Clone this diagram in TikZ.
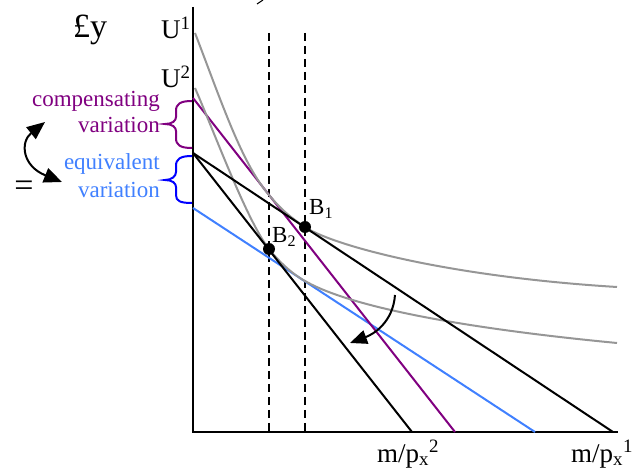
\documentclass[tikz,border=0pt]{standalone}
\usepackage{fontspec}
\setmainfont{Liberation Serif}
\usetikzlibrary{arrows.meta}
\definecolor{cvpurple}{RGB}{128,0,128}
\definecolor{evblue}{RGB}{64,128,255}
\definecolor{bracblue}{RGB}{0,0,255}
\definecolor{icgray}{RGB}{150,150,150}
\begin{document}
\begin{tikzpicture}[x=1pt,y=-1pt,
  big/.style={font=\fontsize{27}{30}\selectfont, inner sep=0pt},
  huge/.style={font=\fontsize{34}{38}\selectfont, inner sep=0pt},
  lab/.style={font=\fontsize{23}{27}\selectfont, inner sep=0pt},
  blab/.style={font=\fontsize{23}{27}\selectfont, inner sep=0pt},
  axis/.style={line width=2.5pt},
  bline/.style={line width=2pt, black},
  ic/.style={line width=2pt, icgray},
  vdash/.style={line width=2pt, dash pattern=on 8pt off 5pt},
  dot/.style={circle, fill=black, inner sep=0pt, minimum size=12pt},
  brc/.style={line width=2pt},
  arr/.style={line width=2pt, -{Triangle[length=17pt,width=14pt]}},
  darr/.style={line width=2pt, {Triangle[length=18pt,width=15pt]}-{Triangle[length=18pt,width=15pt]}}]
\useasboundingbox (0,0) rectangle (633,468);
% axes
\coordinate (ytop) at (193,7);
\coordinate (O) at (193,432);
\coordinate (xend) at (618,432);
\draw[axis] (ytop) -- (O) -- (xend);
% dashed verticals
\coordinate (d2t) at (269,33); \coordinate (d2b) at (269,432);
\coordinate (d1t) at (305,33); \coordinate (d1b) at (305,432);
\draw[vdash] (d2t) -- (d2b);
\draw[vdash] (d1t) -- (d1b);
% budget lines
\coordinate (S) at (193,153);
\coordinate (X1) at (613,432);
\coordinate (X2) at (412,432);
\coordinate (P0) at (193,98);
\coordinate (PE) at (455,432);
\coordinate (E0) at (193,208);
\coordinate (EE) at (535,432);
\draw[line width=2pt, evblue] (E0) -- (EE);
\draw[line width=2pt, cvpurple] (P0) -- (PE);
% indifference curves
\draw[ic] (195,33) .. controls (220,98) and (240,158) .. (265,190)
  .. controls (280,209) and (290,217) .. (305,227)
  .. controls (330,244) and (440,276) .. (617,287);
\draw[ic] (195,88) .. controls (215,134) and (247,221) .. (269,249)
  .. controls (279,261.7) and (290,271.5) .. (300,278)
  .. controls (335,301) and (430,325) .. (617,343);
\draw[bline] (S) -- (X1);
\draw[bline] (S) -- (X2);
% points
\node[dot] (B1) at (305,227) {};
\node[dot] (B2) at (269,249) {};
\node[blab, anchor=base west] (b1l) at (309,215) {B\textsubscript{1}};
\node[blab, anchor=base west] (b2l) at (272,243) {B\textsubscript{2}};
% braces
\draw[brc, cvpurple] (192,101) .. controls (180,101) and (176,104) .. (176,111) -- (176,117)
  .. controls (176,121) and (172,124) .. (165,124)
  .. controls (172,124) and (176,127) .. (176,131) -- (176,138)
  .. controls (176,145) and (180,148) .. (192,148);
\draw[brc, bracblue] (192,156) .. controls (180,156) and (176,159) .. (176,166) -- (176,172)
  .. controls (176,176) and (172,180) .. (165,180)
  .. controls (172,180) and (176,183) .. (176,187) -- (176,195)
  .. controls (176,201) and (180,203) .. (192,203);
% labels
\node[huge, anchor=base] (fy) at (90,38) {£y};
\node[big, anchor=base west] (u1) at (161,39) {U\textsuperscript{1}};
\node[big, anchor=base west] (u2) at (161,88) {U\textsuperscript{2}};
\node[big, anchor=base west] (mp2) at (377,462) {m/p\textsubscript{x}\textsuperscript{2}};
\node[big, anchor=base west] (mp1) at (571,462) {m/p\textsubscript{x}\textsuperscript{1}};
\node[huge] (eq) at (24,189) {=};
\node[lab, anchor=base east, text=cvpurple] (cv1) at (160,107) {compensating};
\node[lab, anchor=base east, text=cvpurple] (cv2) at (160,133) {variation};
\node[lab, anchor=base east, text=evblue] (ev1) at (160,170) {equivalent};
\node[lab, anchor=base east, text=evblue] (ev2) at (160,198) {variation};
% arrows
\coordinate (a1s) at (395,295);
\coordinate (a1e) at (350,343);
\draw[arr] (a1s) .. controls (393,322) and (374,334) .. (a1e);
\coordinate (a2s) at (45,122);
\coordinate (a2e) at (62,182);
\draw[darr] (a2s) .. controls (20,142) and (22,166) .. (a2e);
% fragment at top edge
\coordinate (fr1) at (257,4);
\coordinate (fr2) at (263,0);
\draw[line width=1pt] (fr1) -- (fr2);
\end{tikzpicture}
\end{document}
